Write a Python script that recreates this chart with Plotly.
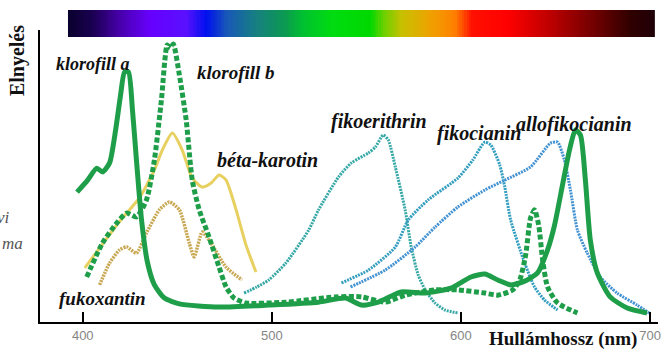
import plotly.graph_objects as go

# ---------------- data (wavelength in nm, relative absorbance 0..1) ----------------
kla_nm = [397, 402.6, 407.4, 410.5, 414.2, 417.4, 420.0, 422.1, 424.2, 426.3, 428.4, 431.1, 434.2,
          437.9, 443.2, 451.1, 472.1, 498.4, 524.7, 538.9, 547.4, 556.3, 568.4, 581.1, 594.7, 605.3,
          612.6, 619.5, 626.3, 633.7, 640.5, 645.8, 649.5, 653.7, 657.4, 660.5, 663.2, 665.8, 668.4,
          672.1, 678.9, 687.9, 698.4]
kla_abs = [0.445, 0.486, 0.527, 0.514, 0.545, 0.658, 0.777, 0.856, 0.856, 0.726, 0.555, 0.349, 0.205,
           0.127, 0.082, 0.062, 0.051, 0.058, 0.068, 0.082, 0.058, 0.068, 0.103, 0.099, 0.116, 0.154,
           0.164, 0.144, 0.127, 0.140, 0.168, 0.247, 0.332, 0.469, 0.589, 0.658, 0.640, 0.486, 0.281,
           0.168, 0.086, 0.048, 0.031]

klb_nm = [402.1, 410.5, 418.4, 423.2, 428.4, 433.7, 437.9, 441.6, 444.7, 446.3, 447.9, 451.1, 454.7,
          457.9, 461.6, 466.8, 472.1, 475.8, 480.0, 486.3, 507.4, 533.7, 547.4, 560.0, 570.5, 586.3,
          598.4, 612.6, 619.5, 627.4, 631.1, 634.2, 636.8, 638.9, 641.1, 643.2, 645.8, 651.1, 661.6]
klb_abs = [0.154, 0.271, 0.342, 0.373, 0.360, 0.418, 0.555, 0.760, 0.949, 0.938, 0.952, 0.846, 0.692,
           0.486, 0.384, 0.291, 0.188, 0.120, 0.082, 0.065, 0.068, 0.086, 0.086, 0.068, 0.092, 0.110,
           0.110, 0.099, 0.092, 0.110, 0.144, 0.229, 0.356, 0.384, 0.332, 0.212, 0.120, 0.065, 0.031]

beta_nm = [401.1, 408.9, 416.8, 423.2, 430.0, 437.9, 442.1, 447.4, 452.6, 457.9, 463.2, 467.9, 472.1,
           475.8, 481.1, 486.3, 491.6]
beta_abs = [0.185, 0.253, 0.322, 0.373, 0.425, 0.521, 0.589, 0.647, 0.589, 0.493, 0.462, 0.476, 0.503,
            0.486, 0.384, 0.264, 0.171]

fuko_nm = [408.9, 414.2, 419.5, 423.2, 428.4, 433.7, 440.5, 445.8, 451.1, 456.3, 458.9, 463.2, 466.8,
           475.8, 484.2]
fuko_abs = [0.127, 0.202, 0.247, 0.257, 0.236, 0.305, 0.384, 0.411, 0.384, 0.271, 0.223, 0.308, 0.281,
            0.188, 0.144]

fer_nm = [485.3, 492.1, 498.4, 507.4, 519.5, 524.7, 535.3, 542.1, 551.1, 554.7, 558.9, 561.6, 565.3,
          570.5, 573.7, 577.4, 581.1, 586.3, 591.6, 598.4]
fer_abs = [0.099, 0.120, 0.144, 0.202, 0.315, 0.384, 0.497, 0.545, 0.579, 0.599, 0.640, 0.623, 0.531,
           0.384, 0.257, 0.161, 0.110, 0.065, 0.041, 0.031]

fcy_nm = [536.8, 551.1, 565.3, 572.1, 582.6, 598.4, 606.3, 612.6, 615.8, 620.5, 623.2, 626.3, 633.7,
          638.9, 644.2, 651.1]
fcy_abs = [0.134, 0.178, 0.257, 0.349, 0.418, 0.493, 0.555, 0.616, 0.606, 0.538, 0.462, 0.349, 0.202,
           0.120, 0.075, 0.041]

afc_nm = [541.6, 560.0, 575.8, 586.3, 598.4, 612.6, 623.2, 636.8, 647.4, 651.1, 654.7, 657.9, 661.6,
          666.8, 673.7, 682.6, 693.2, 699.5]
afc_abs = [0.120, 0.178, 0.257, 0.325, 0.394, 0.452, 0.486, 0.531, 0.613, 0.616, 0.555, 0.452, 0.315,
           0.236, 0.154, 0.099, 0.058, 0.031]

tick_vals = [400, 500, 600, 700]
tick_text = ["400", "500", "600", "700"]

labels = ["klorofill a", "klorofill b", "béta-karotin", "fukoxantin",
          "fikoerithrin", "fikocianin", "allofikocianin"]
label_nm = [405.3, 481.1, 497.9, 410.5, 556.8, 609.5, 660.0]
label_abs = [0.884, 0.856, 0.555, 0.082, 0.685, 0.647, 0.675]
label_size = [18, 19, 20, 19, 20, 20, 20]

spectrum_stops = [
    [0.00, "#0a0030"], [0.04, "#1a0050"], [0.09, "#4a00b0"], [0.14, "#6600ff"],
    [0.20, "#5a10ff"], [0.235, "#0010ee"], [0.27, "#1858b8"], [0.32, "#168080"],
    [0.37, "#0c9a50"], [0.40, "#00c030"], [0.45, "#00dc10"], [0.515, "#00d800"],
    [0.54, "#70d000"], [0.57, "#c8c000"], [0.62, "#f0a000"], [0.66, "#ff8000"],
    [0.69, "#ff1000"], [0.75, "#ff0000"], [0.82, "#c00000"], [0.90, "#700000"],
    [0.96, "#300000"], [1.00, "#200008"],
]
spectrum_n = 240

# ---------------- figure ----------------
W, H = 661, 349
ML, MR, MT, MB = 40, 0, 10, 27
PW, PH = W - ML - MR, H - MT - MB


def px_y(py):
    return (H - MB - py) / PH


def px_x(px):
    return (px - ML) / PW


GREEN = "#1f9e4a"
fig = go.Figure()

spline = dict(shape="spline", smoothing=0.6)

fig.add_trace(go.Scatter(x=fuko_nm, y=fuko_abs, mode="lines",
                         line=dict(color="#c9a853", width=3.5, dash="2px,1px", **spline)))
fig.add_trace(go.Scatter(x=beta_nm, y=beta_abs, mode="lines",
                         line=dict(color="#e8d060", width=3, **spline)))
fig.add_trace(go.Scatter(x=fer_nm, y=fer_abs, mode="lines",
                         line=dict(color="#36a8a6", width=3, dash="2px,1px", **spline)))
fig.add_trace(go.Scatter(x=fcy_nm, y=fcy_abs, mode="lines",
                         line=dict(color="#349ec0", width=3, dash="2px,1px", **spline)))
fig.add_trace(go.Scatter(x=afc_nm, y=afc_abs, mode="lines",
                         line=dict(color="#4392d2", width=3, dash="2px,1px", **spline)))
fig.add_trace(go.Scatter(x=klb_nm, y=klb_abs, mode="lines",
                         line=dict(color=GREEN, width=5, dash="5px,2.5px", **spline)))
fig.add_trace(go.Scatter(x=kla_nm, y=kla_abs, mode="lines",
                         line=dict(color=GREEN, width=5, **spline)))

# spectrum bar
fig.add_trace(go.Heatmap(z=[list(range(spectrum_n))], x=list(range(spectrum_n)),
                         colorscale=spectrum_stops, zmin=0, zmax=spectrum_n - 1,
                         showscale=False, hoverinfo="skip", xaxis="x2", yaxis="y2"))

for t, xv, yv, fs in zip(labels, label_nm, label_abs, label_size):
    fig.add_annotation(x=xv, y=yv, text=f"<b><i>{t}</i></b>", showarrow=False,
                       font=dict(family="Liberation Serif", size=fs, color="#111"),
                       xanchor="center", yanchor="middle")

# axis titles
fig.add_annotation(xref="paper", yref="paper", x=px_x(18), y=px_y(61), text="<b>Elnyelés</b>",
                   textangle=-90, showarrow=False, xanchor="center", yanchor="middle",
                   font=dict(family="Liberation Serif", size=20, color="#111"))
fig.add_annotation(xref="paper", yref="paper", x=px_x(566), y=px_y(339),
                   text="<b>Hullámhossz (nm)</b>", showarrow=False, bgcolor="white",
                   borderpad=1, xanchor="center", yanchor="middle",
                   font=dict(family="Liberation Serif", size=19, color="#111"))

# cut-off side text
fig.add_annotation(xref="paper", yref="paper", x=px_x(12), y=px_y(217), text="<i>vi</i>",
                   showarrow=False, xanchor="right", yanchor="middle",
                   font=dict(family="Liberation Serif", size=17, color="#555"))
fig.add_annotation(xref="paper", yref="paper", x=px_x(25), y=px_y(243), text="<i>ma</i>",
                   showarrow=False, xanchor="right", yanchor="middle",
                   font=dict(family="Liberation Serif", size=17, color="#555"))

fig.update_layout(
    width=W, height=H,
    margin=dict(l=ML, r=MR, t=MT, b=MB),
    paper_bgcolor="white", plot_bgcolor="white",
    showlegend=False,
    xaxis=dict(range=[377.4, 704.2], showgrid=False, zeroline=False,
               showline=True, linecolor="black", linewidth=2,
               tickvals=tick_vals, ticktext=tick_text, ticks="inside", ticklen=10,
               tickwidth=2, tickcolor="black", ticklabeloverflow="allow",
               tickfont=dict(family="Liberation Sans", size=13, color="#858585")),
    yaxis=dict(range=[0, 1], domain=[0, px_y(30)], showgrid=False, zeroline=False,
               showline=True, linecolor="black", linewidth=2, showticklabels=False,
               ticks=""),
    xaxis2=dict(domain=[px_x(68), px_x(658)], range=[-0.5, spectrum_n - 0.5],
                visible=False, anchor="y2"),
    yaxis2=dict(domain=[px_y(37), px_y(10)], visible=False, anchor="x2"),
)

fig.write_html("out.html", config={"displayModeBar": False},
               post_script="document.body.style.margin='0';document.body.style.overflow='hidden';")
